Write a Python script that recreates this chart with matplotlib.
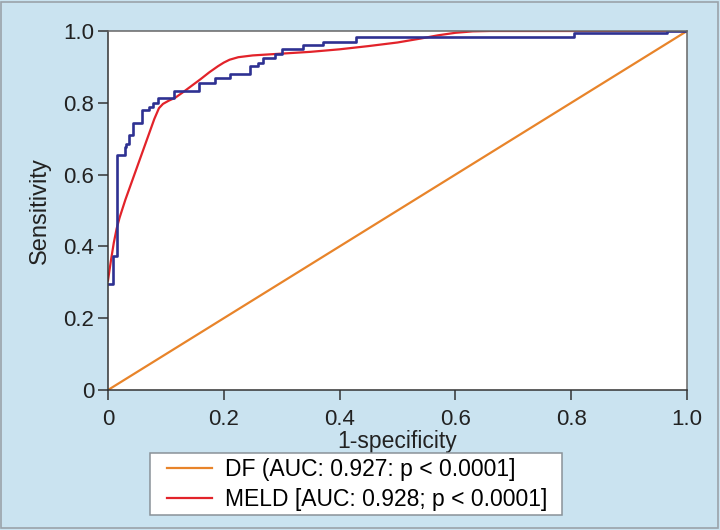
import matplotlib
matplotlib.use("Agg")
import matplotlib.pyplot as plt
from matplotlib.patches import Rectangle

plt.rcParams['font.family'] = ['Liberation Sans', 'DejaVu Sans']

# ROC data
# blue step curve (step-post: tpr value reached at each fpr)
step_fpr = [0.002, 0.008, 0.015, 0.029, 0.031, 0.036, 0.044, 0.058, 0.071, 0.078,
            0.087, 0.114, 0.157, 0.184, 0.210, 0.245, 0.259, 0.267, 0.288, 0.301,
            0.337, 0.372, 0.428, 0.805, 0.966, 1.0]
step_tpr = [0.295, 0.372, 0.655, 0.678, 0.685, 0.711, 0.745, 0.779, 0.788, 0.799,
            0.812, 0.833, 0.855, 0.869, 0.881, 0.903, 0.912, 0.925, 0.936, 0.950,
            0.960, 0.970, 0.983, 0.994, 1.0, 1.0]

# MELD (red smooth curve)
meld_fpr = [0.0, 0.005, 0.01, 0.015, 0.02, 0.03, 0.04, 0.05, 0.06, 0.07, 0.08,
            0.088, 0.095, 0.105, 0.116, 0.13, 0.145, 0.16, 0.175, 0.19, 0.2,
            0.21, 0.225, 0.25, 0.3, 0.35, 0.4, 0.45, 0.5, 0.54, 0.57, 0.6,
            0.63, 0.66, 1.0]
meld_tpr = [0.305, 0.36, 0.41, 0.45, 0.48, 0.53, 0.575, 0.62, 0.665, 0.71, 0.755,
            0.785, 0.797, 0.806, 0.814, 0.83, 0.848, 0.866, 0.885, 0.902, 0.912,
            0.92, 0.927, 0.932, 0.937, 0.942, 0.949, 0.958, 0.968, 0.979, 0.988,
            0.995, 0.999, 1.0, 1.0]

# DF (orange reference diagonal)
df_fpr = [0.0, 1.0]
df_tpr = [0.0, 1.0]

ticks = [0, 0.2, 0.4, 0.6, 0.8, 1.0]
tick_labels = ["0", "0.2", "0.4", "0.6", "0.8", "1.0"]

bg = '#cae3f0'
fig = plt.figure(figsize=(7.2, 5.3), dpi=100, facecolor=bg)
ax = fig.add_axes([108 / 720, 140 / 530, 579 / 720, 359 / 530])
ax.set_facecolor('white')

ax.plot(df_fpr, df_tpr, color='#e8842a', lw=1.6, label='DF (AUC: 0.927: p < 0.0001]')
ax.plot(meld_fpr, meld_tpr, color='#e2232a', lw=1.6, label='MELD [AUC: 0.928; p < 0.0001]')
ax.plot(step_fpr, step_tpr, color='#2e3192', lw=1.9, drawstyle='steps-post')

ax.set_xlim(0, 1)
ax.set_ylim(0, 1)
ax.set_xticks(ticks)
ax.set_xticklabels(tick_labels)
ax.set_yticks(ticks)
ax.set_yticklabels(tick_labels)
ax.tick_params(labelsize=16, length=7, width=1.1, color='#333333', labelcolor='#222222')
ax.tick_params(axis='x', pad=7)
ax.tick_params(axis='y', pad=3)

for side in ['left', 'bottom']:
    ax.spines[side].set_color('#333333')
    ax.spines[side].set_linewidth(1.1)
for side in ['top', 'right']:
    ax.spines[side].set_color('#666666')
    ax.spines[side].set_linewidth(1.1)

ax.set_xlabel('1-specificity', fontsize=16.5, color='#222222', labelpad=0)
ax.set_ylabel('Sensitivity', fontsize=17, color='#222222', labelpad=9)

# legend box drawn separately so padding matches the original
fig.patches.append(Rectangle((150 / 720, 15 / 530), 412 / 720, 62 / 530,
                             transform=fig.transFigure, facecolor='white',
                             edgecolor='#8a9298', linewidth=1.1, zorder=0))
leg = fig.legend(loc='upper left', bbox_to_anchor=(167 / 720, 72 / 530),
                 fontsize=16.5, frameon=False, borderaxespad=0, borderpad=0,
                 handlelength=1.97, handletextpad=0.57, labelspacing=0.3)
for line in leg.get_lines():
    line.set_linewidth(1.6)

# thin grey frame around the whole picture
fig.patches.append(Rectangle((0.002, 0.003), 0.995, 0.994, transform=fig.transFigure,
                             fill=False, edgecolor='#9aa3aa', linewidth=1.2))

fig.savefig('out.png', dpi=100, facecolor=bg)
